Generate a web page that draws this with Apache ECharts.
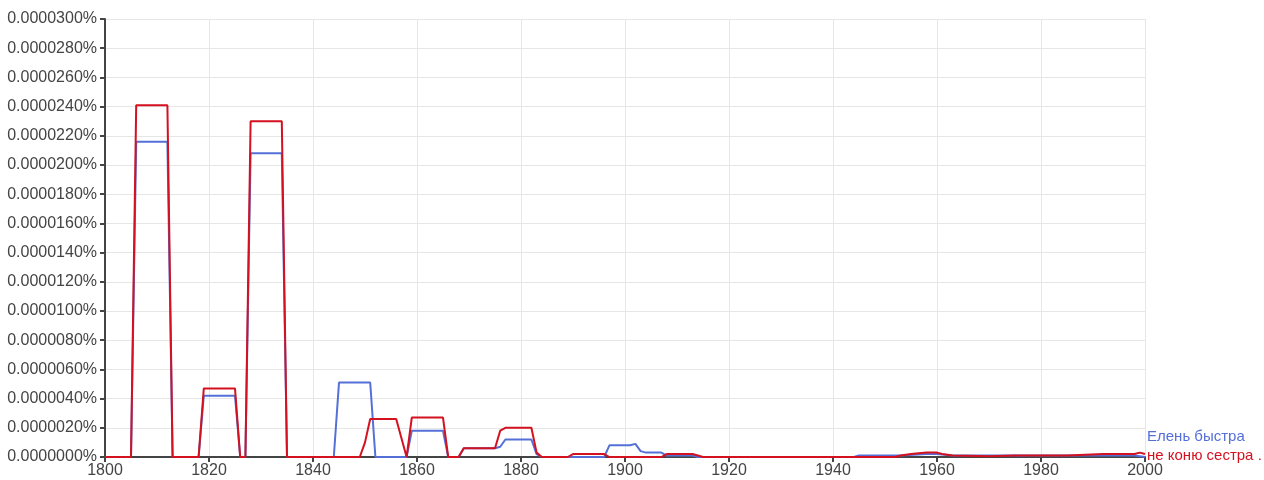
<!DOCTYPE html>
<html>
<head>
<meta charset="utf-8">
<script src="https://cdn.jsdelivr.net/npm/echarts@6/dist/echarts.min.js"></script>
<style>
html,body{margin:0;padding:0;background:#fff;}
#chart{width:1264px;height:480px;}
</style>
</head>
<body>
<div id="chart"></div>
<script>
// Series names
const blueName = 'Елень быстра';
const redName = 'не коню сестра .';

// Blue series: years and values (percent)
const blueYears = [1800,1805,1806,1812,1813,1818,1819,1825,1826,1827,1828,1834,1835,1844,1845,1851,1852,1858,1859,1865,1866,1868,1869,1875,1876,1877,1882,1883,1884,1896,1897,1901,1902,1903,1904,1907,1908,1913,1914,1944,1945,1952,1953,1958,1960,1963,1970,1980,1998,2000];
const blueValues = [0,0,0.0000216,0.0000216,0,0,0.0000042,0.0000042,0,0,0.0000208,0.0000208,0,0,0.0000051,0.0000051,0,0,0.0000018,0.0000018,0,0,0.0000006,0.0000006,0.0000007,0.0000012,0.0000012,0.0000002,0,0,0.0000008,0.0000008,0.0000009,0.0000004,0.0000003,0.0000003,0.0000001,0.0000001,0,0,0.0000001,0.0000001,0.0000001,0.0000002,0.0000002,0.0000001,0.0000001,0.0000001,0.0000001,0];

// Red series: years and values (percent)
const redYears = [1800,1805,1806,1812,1813,1818,1819,1825,1826,1827,1828,1834,1835,1849,1850,1851,1856,1857,1858,1859,1865,1866,1868,1869,1875,1876,1877,1882,1883,1884,1889,1890,1896,1897,1907,1908,1913,1914,1915,1952,1953,1955,1958,1960,1961,1963,1970,1975,1985,1992,1998,1999,2000];
const redValues = [0,0,0.0000241,0.0000241,0,0,0.0000047,0.0000047,0,0,0.0000230,0.0000230,0,0,0.0000010,0.0000026,0.0000026,0.0000013,0,0.0000027,0.0000027,0,0,0.0000006,0.0000006,0.0000018,0.0000020,0.0000020,0.0000003,0,0,0.0000002,0.0000002,0,0,0.0000002,0.0000002,0.0000001,0,0,0.0000001,0.0000002,0.0000003,0.0000003,0.0000002,0.0000001,0.00000005,0.0000001,0.0000001,0.0000002,0.0000002,0.0000003,0.0000002];

// Axis settings
const xMin = 1800, xMax = 2000, xStep = 20;
const yMin = 0, yMax = 0.000030, yStep = 0.000002;

function pairs(xs, ys){ return xs.map((x,i)=>[x, ys[i]]); }

const chart = echarts.init(document.getElementById('chart'), null, {renderer:'canvas'});
const blueColor = '#5470d8';
const redColor = '#d3111f';
const font = 'Arial, "Liberation Sans", sans-serif';

chart.setOption({
  animation:false,
  backgroundColor:'#ffffff',
  grid:{left:105, right:119, top:19, bottom:23, containLabel:false},
  xAxis:{
    type:'value', min:xMin, max:xMax, interval:xStep,
    axisLine:{show:true, lineStyle:{color:'#444', width:2}},
    axisTick:{show:true, length:5, lineStyle:{color:'#444', width:2}},
    axisLabel:{color:'#444', fontSize:16, fontFamily:font, margin:6, formatter: v => String(v)},
    splitLine:{show:true, lineStyle:{color:'#e6e6e6', width:1}}
  },
  yAxis:{
    type:'value', min:yMin, max:yMax, interval:yStep,
    axisLine:{show:true, lineStyle:{color:'#444', width:2}},
    axisTick:{show:true, length:5, lineStyle:{color:'#444', width:2}},
    axisLabel:{color:'#444', fontSize:16, fontFamily:font, margin:8,
      formatter: v => (v).toFixed(7) + '%'},
    splitLine:{show:true, lineStyle:{color:'#e6e6e6', width:1}}
  },
  series:[
    {
      name: blueName, type:'line', data: pairs(blueYears, blueValues),
      showSymbol:false, symbol:'none',
      lineStyle:{color:blueColor, width:2},
      itemStyle:{color:blueColor},
      endLabel:{show:true, formatter:'{a}', color:blueColor, fontSize:15, fontFamily:font, offset:[-6,-20]},
      z:2
    },
    {
      name: redName, type:'line', data: pairs(redYears, redValues),
      showSymbol:false, symbol:'none',
      lineStyle:{color:redColor, width:2},
      itemStyle:{color:redColor},
      endLabel:{show:true, formatter:'{a}', color:redColor, fontSize:15, fontFamily:font, offset:[-6,2]},
      z:3
    }
  ]
});
</script>
</body>
</html>
